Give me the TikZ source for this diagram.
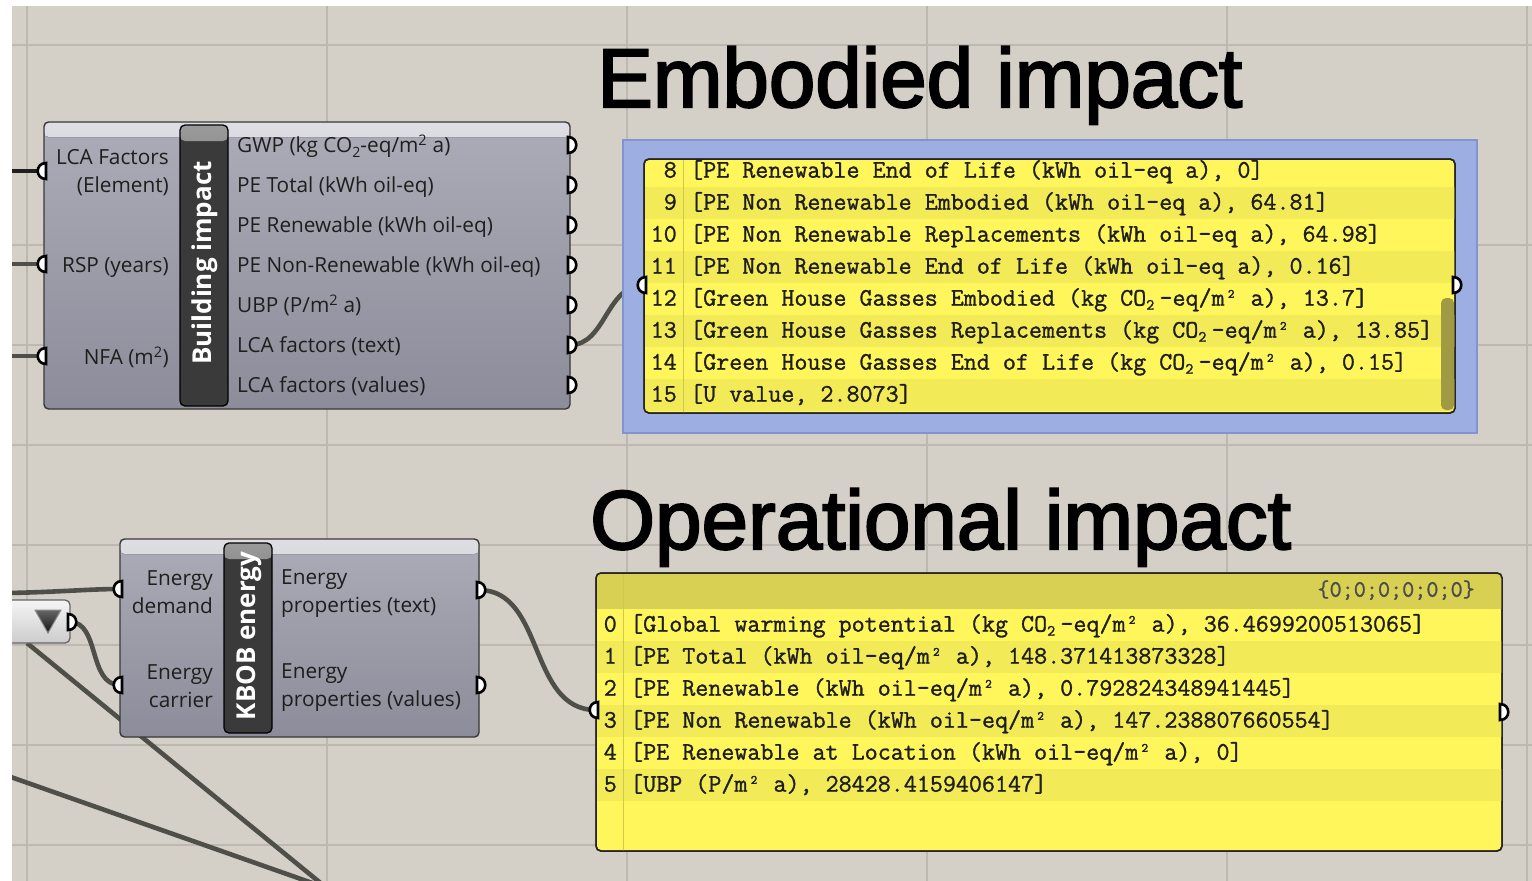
\documentclass[tikz,border=0pt]{standalone}
\usepackage{fontspec}
\setmainfont{Open Sans}
\newfontfamily\titlefont{Liberation Sans}[FakeBold=2.5]
\newfontfamily\listfont{Latin Modern Mono}[FakeBold=1.2]
\usetikzlibrary{calc}

\definecolor{canvas}{HTML}{D4D0C8}
\definecolor{gridline}{HTML}{BDB9B1}
\definecolor{wirecol}{HTML}{4F4F49}
\definecolor{bodytop}{HTML}{ACACB8}
\definecolor{bodybot}{HTML}{8C8C9A}
\definecolor{bandtop}{HTML}{DEDEE4}
\definecolor{barcol}{HTML}{3A3A3A}
\definecolor{barhi}{HTML}{9A9A9A}
\definecolor{panelblue}{HTML}{9CAEE2}
\definecolor{panelblueedge}{HTML}{8294CF}
\definecolor{ylight}{HTML}{FFF65C}
\definecolor{ydark}{HTML}{F2EA56}
\definecolor{yhead}{HTML}{D8D052}
\definecolor{ysep}{HTML}{CFC74E}
\definecolor{scrollcol}{HTML}{A09A42}
\definecolor{labcol}{HTML}{1E1E1E}

% subscript two for the label fonts
\newcommand\subtwo{\raisebox{-0.22em}{\scalebox{0.68}{2}}}
% subscript two occupying one cell of the list font
\newcommand\monotwo{\makebox[0.525em][l]{\raisebox{-0.16em}{\scalebox{0.62}{2}}}}

% parameter grips
\newcommand\portout[1]{\draw[port] ([xshift=-2pt,yshift=8pt]#1) .. controls ([xshift=9pt,yshift=8pt]#1) and ([xshift=9pt,yshift=-8pt]#1) .. ([xshift=-2pt,yshift=-8pt]#1) -- cycle;}
\newcommand\portin[1]{\draw[port] ([xshift=2pt,yshift=8pt]#1) .. controls ([xshift=-9pt,yshift=8pt]#1) and ([xshift=-9pt,yshift=-8pt]#1) .. ([xshift=2pt,yshift=-8pt]#1) -- cycle;}

\tikzset{
  wire/.style={draw=wirecol, line width=4.6pt},
  darkwire/.style={draw=black!88, line width=4.6pt},
  port/.style={fill=white, draw=black, line width=2.6pt},
  compbody/.style={draw=black!78, line width=1.4pt, rounded corners=4.5pt,
    top color=bodytop, bottom color=bodybot, inner sep=0pt,
    path picture={\fill[top color=bandtop, bottom color=bodytop]
      (path picture bounding box.north west) rectangle
      ([yshift=-15pt]path picture bounding box.north east);}},
  bar/.style={draw=black, line width=1.3pt, rounded corners=5pt, fill=barcol, inner sep=0pt,
    path picture={\fill[top color=barhi, bottom color=barcol]
      (path picture bounding box.north west) rectangle
      ([yshift=-16pt]path picture bounding box.north east);}},
  bartext/.style={rotate=90, text=white, inner sep=0pt,
    font=\bfseries\fontsize{26}{26}\selectfont},
  lab/.style={font=\fontsize{20.8}{28}\selectfont, text=labcol, inner sep=0pt},
  rowtext/.style={font=\listfont\fontsize{25.3}{25.3}\selectfont, text=labcol,
    anchor=mid west, inner sep=0pt},
  idxtext/.style={font=\listfont\fontsize{25.3}{25.3}\selectfont, text=labcol,
    anchor=mid east, inner sep=0pt},
  bigtitle/.style={font=\titlefont\fontsize{83.5}{83.5}\selectfont, text=black,
    anchor=base west, inner sep=0pt},
  listpanel/.style={draw=black!85, line width=1.5pt, rounded corners=5pt,
    fill=ylight, inner sep=0pt},
}

\begin{document}
\begin{tikzpicture}[x=1pt,y=-1pt]
\useasboundingbox (0,0) rectangle (1532,881);
\fill[white] (0,0) rectangle (1532,881);
\fill[canvas] (12,6) rectangle (1532,881);

\begin{scope}
\clip (12,6) rectangle (1532,881);
% canvas grid
\foreach \gx in {27,327,627,927,1227,1527}
  \draw[gridline, line width=1.2pt] (\gx,6) -- (\gx,881);
\foreach \gy in {45,245,345,445,545,645,745,845}
  \draw[gridline, line width=1.2pt] (12,\gy) -- (1532,\gy);

% wire sources beyond the left edge
\coordinate (srcA) at (8,171);
\coordinate (srcB) at (8,264);
\coordinate (srcC) at (8,356);
\coordinate (srcD) at (8,593);
\coordinate (srcE) at (8,776);
\coordinate (sinkF) at (323,885);
\coordinate (sinkG) at (318,885);
\coordinate (srcH) at (27,643);

% grip positions
\coordinate (bi-i1) at (44,171);
\coordinate (bi-i2) at (44,264);
\coordinate (bi-i3) at (44,356);
\foreach \k/\yy in {1/145,2/185,3/225,4/265,5/305,6/345,7/385}
  \coordinate (bi-o\k) at (570,\yy);
\coordinate (kb-i1) at (120,589);
\coordinate (kb-i2) at (120,685);
\coordinate (kb-o1) at (479,590);
\coordinate (kb-o2) at (479,685);
\coordinate (dd-o) at (70,622);
\coordinate (emb-i) at (644,285);
\coordinate (emb-o) at (1455,285);
\coordinate (op-i) at (596,710);
\coordinate (op-o) at (1502,712);

% wires
\draw[darkwire] (srcA) -- (bi-i1);
\draw[wire] (srcB) -- (bi-i2);
\draw[wire] (srcC) -- (bi-i3);
\draw[wire] (srcD) .. controls (60,592) and (90,589) .. (kb-i1);
\draw[wire] (srcH) -- (sinkF);
\draw[wire] (srcE) -- (sinkG);
\draw[wire] (dd-o) .. controls (100,622) and (88,685) .. (kb-i2);
\draw[wire] (bi-o6) .. controls (606,345) and (606,285) .. (emb-i);
\draw[wire] (kb-o1) .. controls (545,590) and (528,710) .. (op-i);

% value list selector
\node[draw=black!60, line width=1.3pt, rounded corners=5pt, top color=white!96!black,
  bottom color=black!20, minimum width=84pt, minimum height=43pt, inner sep=0pt]
  (dd) at (28,621.5) {};
\fill[draw=black!45, line width=1pt, top color=black!60, bottom color=black!92]
  (35,610) -- (61,610) -- (48,633) -- cycle;
\end{scope}

% Building impact component
\node[compbody, minimum width=526pt, minimum height=287pt] (bi) at (307,265.5) {};
\node[bar, minimum width=48pt, minimum height=281pt] (bibar) at (204,265.5) {};
\node[bartext] (bitxt) at (205,263) {Building impact};
\node[lab, align=right, anchor=east] (bil1) at (169,173) {LCA Factors\\(Element)};
\node[lab, anchor=mid east] (bil2) at (169,270) {RSP (years)};
\node[lab, anchor=mid east] (bil3) at (169,362) {NFA (m\textsuperscript{2})};
\node[lab, anchor=mid west] (bio1) at (237,150) {GWP (kg CO\subtwo-eq/m\textsuperscript{2} a)};
\node[lab, anchor=mid west] (bio2) at (237,190) {PE Total (kWh oil-eq)};
\node[lab, anchor=mid west] (bio3) at (237,230) {PE Renewable (kWh oil-eq)};
\node[lab, anchor=mid west] (bio4) at (237,270) {PE Non-Renewable (kWh oil-eq)};
\node[lab, anchor=mid west] (bio5) at (237,310) {UBP (P/m\textsuperscript{2} a)};
\node[lab, anchor=mid west] (bio6) at (237,350) {LCA factors (text)};
\node[lab, anchor=mid west] (bio7) at (237,390) {LCA factors (values)};

% KBOB energy component
\node[compbody, minimum width=359pt, minimum height=198pt] (kb) at (299.5,638) {};
\node[bar, minimum width=48pt, minimum height=190pt] (kbbar) at (248,638) {};
\node[bartext] (kbtxt) at (249,636) {KBOB energy};
\node[lab, align=right, anchor=east] (kbl1) at (213,592) {Energy\\demand};
\node[lab, align=right, anchor=east] (kbl2) at (213,686) {Energy\\carrier};
\node[lab, align=left, anchor=west] (kbo1) at (281,594) {Energy\\properties (text)};
\node[lab, align=left, anchor=west] (kbo2) at (281,688) {Energy\\properties (values)};

% titles
\node[bigtitle] (embtitle) at (597,107) {Embodied impact};
\node[bigtitle] (optitle) at (590,549) {Operational impact};

% embodied impact panel
\node[draw=panelblueedge, line width=1.3pt, fill=panelblue, minimum width=854pt,
  minimum height=293pt, inner sep=0pt] (embgroup) at (1050,286.5) {};
\node[listpanel, minimum width=811pt, minimum height=254pt] (emb) at (1049.5,286) {};
\begin{scope}
\clip[rounded corners=5pt] (644,159) rectangle (1455,413);
\foreach \r in {0,2,4,6}
  \fill[ydark] (644,187+\r*32) rectangle (1455,219+\r*32);
\draw[ysep, line width=1pt] (683,159) -- (683,413);
\fill[scrollcol, rounded corners=5pt] (1441,298) rectangle (1454,410);
\end{scope}
\draw[black!85, line width=1.5pt, rounded corners=5pt] (644,159) rectangle (1455,413);
\foreach \n/\yy in {8/175,9/207,10/239,11/271,12/303,13/335,14/367,15/399}
  \node[idxtext] (embidx\n) at (677,\yy) {\n};
\node[rowtext] (embrow8) at (690,175) {[PE Renewable End of Life (kWh oil-eq a), 0]};
\node[rowtext] (embrow9) at (690,207) {[PE Non Renewable Embodied (kWh oil-eq a), 64.81]};
\node[rowtext] (embrow10) at (690,239) {[PE Non Renewable Replacements (kWh oil-eq a), 64.98]};
\node[rowtext] (embrow11) at (690,271) {[PE Non Renewable End of Life (kWh oil-eq a), 0.16]};
\node[rowtext] (embrow12) at (690,303) {[Green House Gasses Embodied (kg CO\monotwo-eq/m² a), 13.7]};
\node[rowtext] (embrow13) at (690,335) {[Green House Gasses Replacements (kg CO\monotwo-eq/m² a), 13.85]};
\node[rowtext] (embrow14) at (690,367) {[Green House Gasses End of Life (kg CO\monotwo-eq/m² a), 0.15]};
\node[rowtext] (embrow15) at (690,399) {[U value, 2.8073]};

% operational impact panel
\node[listpanel, minimum width=906pt, minimum height=278pt] (op) at (1049,712) {};
\begin{scope}
\clip[rounded corners=5pt] (596,573) rectangle (1502,851);
\fill[yhead] (596,573) rectangle (1502,609);
\foreach \r in {1,3,5}
  \fill[ydark] (596,609+\r*32) rectangle (1502,641+\r*32);
\draw[ysep, line width=1pt] (623,573) -- (623,851);
\end{scope}
\draw[black!85, line width=1.5pt, rounded corners=5pt] (596,573) rectangle (1502,851);
\node[font=\listfont\fontsize{23.5}{23.5}\selectfont, text=black!70, anchor=mid east,
  inner sep=0pt] (ophead) at (1475,594) {\{0;0;0;0;0;0\}};
\foreach \n/\yy in {0/629,1/661,2/693,3/725,4/757,5/789}
  \node[idxtext] (opidx\n) at (617,\yy) {\n};
\node[rowtext] (oprow0) at (630,629) {[Global warming potential (kg CO\monotwo-eq/m² a), 36.4699200513065]};
\node[rowtext] (oprow1) at (630,661) {[PE Total (kWh oil-eq/m² a), 148.371413873328]};
\node[rowtext] (oprow2) at (630,693) {[PE Renewable (kWh oil-eq/m² a), 0.792824348941445]};
\node[rowtext] (oprow3) at (630,725) {[PE Non Renewable (kWh oil-eq/m² a), 147.238807660554]};
\node[rowtext] (oprow4) at (630,757) {[PE Renewable at Location (kWh oil-eq/m² a), 0]};
\node[rowtext] (oprow5) at (630,789) {[UBP (P/m² a), 28428.4159406147]};

% grips
\portin{bi-i1} \portin{bi-i2} \portin{bi-i3}
\foreach \k in {1,...,7} {\portout{bi-o\k}}
\portin{kb-i1} \portin{kb-i2}
\portout{kb-o1} \portout{kb-o2}
\portout{dd-o}
\portin{emb-i} \portout{emb-o}
\portin{op-i} \portout{op-o}
\end{tikzpicture}
\end{document}
